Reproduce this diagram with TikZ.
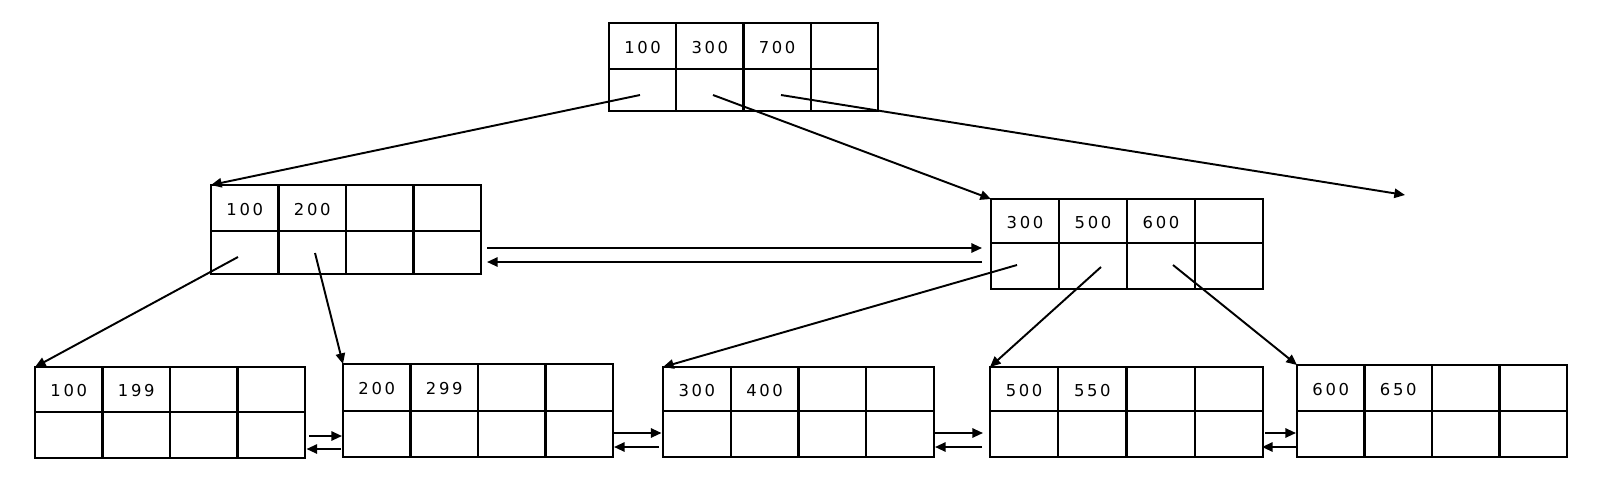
\documentclass[tikz,border=0pt]{standalone}
\usepackage{fontspec}
\newfontfamily\keyfont{DejaVu Sans}[LetterSpace=16]
\usetikzlibrary{arrows.meta,fit}
\tikzset{
  x=0.75pt, y=-0.75pt,
  cellbox/.style={draw, line width=1.6pt, inner sep=0pt, outer sep=0pt},
  gridline/.style={line width=1.6pt},
  keylabel/.style={font=\keyfont\fontsize{12.3}{14}\selectfont, inner sep=0pt},
  ptr/.style={line width=1.45pt, -{Triangle[length=8pt,width=7pt]}},
}
% #1 name, #2 left x, #3 top y, #4 middle y, #5 bottom y, #6 width, #7 keys
\newcommand\keybox[7]{%
  \coordinate (#1-nw) at (#2,#3);
  \coordinate (#1-se) at (#2+#6,#5);
  \node[cellbox, fit=(#1-nw)(#1-se)] (#1) {};
  \draw[gridline] (#2,#4) -- (#2+#6,#4);
  \foreach \k in {1,2,3} \draw[gridline] ({#2+\k*#6/4},#3) -- ({#2+\k*#6/4},#5);
  \foreach \t [count=\i] in {#7}
    \node[keylabel] (#1-k\i) at ({#2+#6*\i/4-#6/8},{(#3+#4)/2+1.5}) {\t};
}
\begin{document}
\begin{tikzpicture}
\fill[white] (0,0) rectangle (1600,494);
\useasboundingbox (0,0) rectangle (1600,494);

\keybox{r}{609}{23}{69}{111}{269}{100,300,700}
\keybox{a}{211}{185}{231}{274}{270}{100,200}
\keybox{b}{991}{199}{243}{289}{272}{300,500,600}
\keybox{l1}{35}{367}{412}{458}{270}{100,199}
\keybox{l2}{343}{364}{411}{457}{270}{200,299}
\keybox{l3}{663}{367}{411}{457}{271}{300,400}
\keybox{l4}{990}{367}{411}{457}{273}{500,550}
\keybox{l5}{1297}{365}{411}{457}{270}{600,650}

% pointer origins
\coordinate (r-p1) at (640,95);
\coordinate (r-p2) at (713,95);
\coordinate (r-p3) at (781,95);
\coordinate (r-free) at (1405,195);
\coordinate (a-p1) at (238,257);
\coordinate (a-p2) at (315,253);
\coordinate (b-p1) at (1017,265);
\coordinate (b-p2) at (1101,267);
\coordinate (b-p3) at (1173,265);

\draw[ptr] (r-p1) -- (a.north west);
\draw[ptr] (r-p2) -- (b.north west);
\draw[ptr] (r-p3) -- (r-free);
\draw[ptr] (a-p1) -- (l1.north west);
\draw[ptr] (a-p2) -- (l2.north west);
\draw[ptr] (b-p1) -- (l3.north west);
\draw[ptr] (b-p2) -- (l4.north west);
\draw[ptr] (b-p3) -- (l5.north west);

% sibling links
\coordinate (ab-r1) at (487,248);  \coordinate (ab-r2) at (982,248);
\coordinate (ab-l1) at (982,262);  \coordinate (ab-l2) at (487,262);
\draw[ptr] (ab-r1) -- (ab-r2);
\draw[ptr] (ab-l1) -- (ab-l2);

\coordinate (s1-r1) at (309,436);  \coordinate (s1-r2) at (342,436);
\coordinate (s1-l1) at (341,449);  \coordinate (s1-l2) at (306.5,449);
\draw[ptr] (s1-r1) -- (s1-r2);
\draw[ptr] (s1-l1) -- (s1-l2);

\coordinate (s2-r1) at (613,433);  \coordinate (s2-r2) at (661.5,433);
\coordinate (s2-l1) at (659,447);  \coordinate (s2-l2) at (614,447);
\draw[ptr] (s2-r1) -- (s2-r2);
\draw[ptr] (s2-l1) -- (s2-l2);

\coordinate (s3-r1) at (935,433);  \coordinate (s3-r2) at (983,433);
\coordinate (s3-l1) at (982,447);  \coordinate (s3-l2) at (935,447);
\draw[ptr] (s3-r1) -- (s3-r2);
\draw[ptr] (s3-l1) -- (s3-l2);

\coordinate (s4-r1) at (1265,433); \coordinate (s4-r2) at (1296,433);
\coordinate (s4-l1) at (1297,447); \coordinate (s4-l2) at (1262,447);
\draw[ptr] (s4-r1) -- (s4-r2);
\draw[ptr] (s4-l1) -- (s4-l2);
\end{tikzpicture}
\end{document}
